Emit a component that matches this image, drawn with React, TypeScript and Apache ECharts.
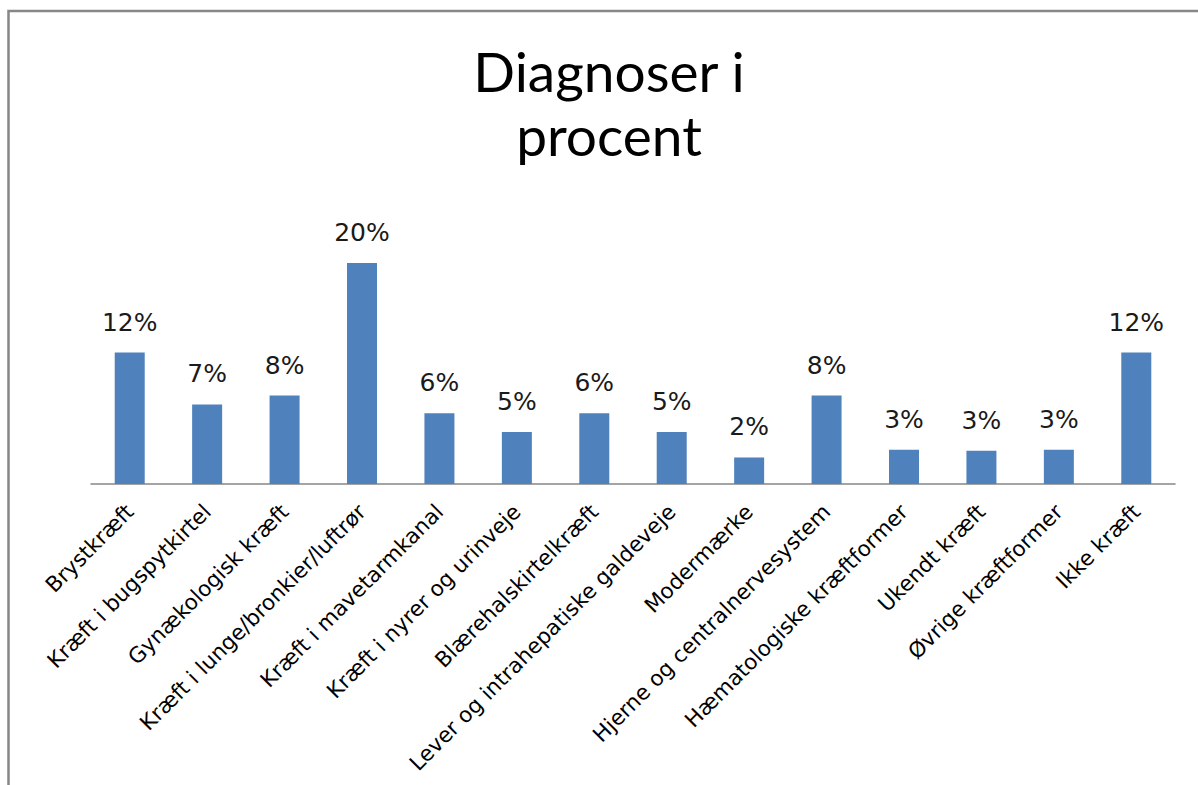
import React, { useEffect, useRef } from "react";
import * as echarts from "echarts";

const categories: string[] = [
  "Brystkræft",
  "Kræft i bugspytkirtel",
  "Gynækologisk kræft",
  "Kræft i lunge/bronkier/luftrør",
  "Kræft i mavetarmkanal",
  "Kræft i nyrer og urinveje",
  "Blærehalskirtelkræft",
  "Lever og intrahepatiske galdeveje",
  "Modermærke",
  "Hjerne og centralnervesystem",
  "Hæmatologiske kræftformer",
  "Ukendt kræft",
  "Øvrige kræftformer",
  "Ikke kræft",
];

const percentValues: number[] = [11.9, 7.2, 8.0, 20.0, 6.4, 4.7, 6.4, 4.7, 2.4, 8.0, 3.1, 3.0, 3.1, 11.9];

const titleLines: string[] = ["Diagnoser i", "procent"];

export default function App() {
  const ref = useRef<HTMLDivElement>(null);

  useEffect(() => {
    if (!ref.current) return;
    const chart = echarts.init(ref.current, undefined, { renderer: "svg" });
    chart.setOption({
      animation: false,
      backgroundColor: "#ffffff",
      graphic: [
        {
          type: "rect",
          shape: { x: 8.5, y: 11, width: 1400, height: 1000 },
          style: { fill: "none", stroke: "#878787", lineWidth: 2.5 },
          silent: true,
        },
        {
          type: "text",
          x: 609,
          y: 39,
          style: {
            text: titleLines.join("\n"),
            font: "55px Lato",
            fill: "#000000",
            align: "center",
            verticalAlign: "top",
            lineHeight: 64,
          },
        },
      ],
      grid: {
        left: 91,
        width: 1084,
        top: 263,
        bottom: 301,
        containLabel: false,
        outerBoundsMode: "none",
      },
      xAxis: {
        type: "category",
        data: categories,
        axisLine: { show: true, lineStyle: { color: "#868686", width: 1.5 } },
        axisTick: { show: false },
        axisLabel: {
          interval: 0,
          rotate: 45,
          margin: 24,
          fontFamily: "DejaVu Sans",
          fontSize: 21.5,
          color: "#000000",
        },
      },
      yAxis: {
        type: "value",
        min: 0,
        max: 20,
        show: false,
        splitLine: { show: false },
      },
      series: [
        {
          type: "bar",
          data: percentValues,
          barWidth: 30,
          itemStyle: { color: "#4f81bd" },
          label: {
            show: true,
            position: "top",
            distance: 18,
            fontFamily: "DejaVu Sans",
            fontSize: 25,
            color: "#1a1a1a",
            formatter: (p: any) => Math.round(p.value) + "%",
          },
        },
      ],
    });
    return () => chart.dispose();
  }, []);

  return (
    <div
      ref={ref}
      style={{ position: "fixed", left: 0, top: 0, width: 1198, height: 785 }}
    />
  );
}
